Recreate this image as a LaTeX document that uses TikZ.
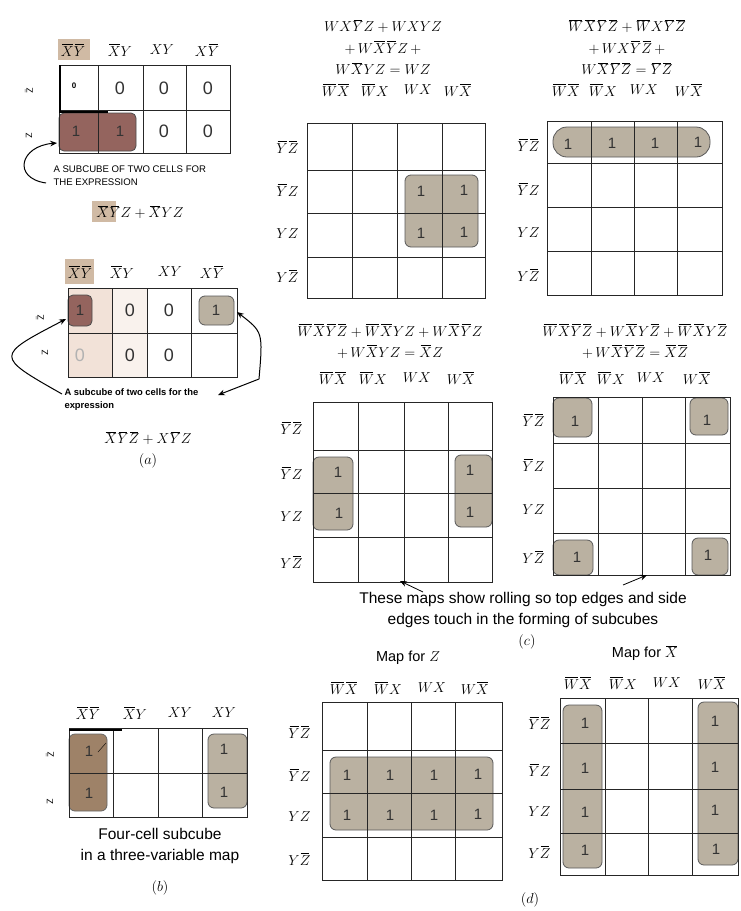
\documentclass[tikz,border=0pt]{standalone}
\usepackage{amsmath}
\usepackage{fontspec}
\newfontfamily\sflab{Liberation Sans}
\usepackage{tikz}
\usetikzlibrary{arrows.meta,positioning}
\definecolor{cubegray}{RGB}{186,177,161}
\definecolor{cubered}{RGB}{148,100,94}
\definecolor{cubeolive}{RGB}{158,130,104}
\definecolor{hdrtan}{RGB}{208,186,164}
\definecolor{pinkcol}{RGB}{242,226,216}
\newcommand{\nbar}[1]{\mkern1.5mu\overline{\mkern-1.5mu#1\mkern-1.5mu}\mkern1.5mu}

\begin{document}
\begin{tikzpicture}[x=1pt,y=-1pt,
    kgrid/.style={draw=black!85,line width=0.9pt},
    cube/.style={fill=cubegray,draw=black!65,line width=0.8pt,rounded corners=6pt},
    redcube/.style={fill=cubered,draw=black!70,line width=0.8pt,rounded corners=5pt},
    olivecube/.style={fill=cubeolive,draw=black!60,line width=0.8pt,rounded corners=6pt},
    one/.style={font=\sflab\fontsize{15}{15}\selectfont,text=black!80},
    zero/.style={font=\sflab\fontsize{18}{18}\selectfont,text=black!80},
    hdr/.style={font=\fontsize{15}{15}\selectfont},
    rowlbl/.style={font=\fontsize{15}{15}\selectfont,anchor=east},
    zlbl/.style={font=\sflab\fontsize{9}{9}\selectfont,rotate=90},
    eqn/.style={font=\fontsize{15.5}{21.5}\selectfont,align=center},
    note/.style={font=\sflab\fontsize{9.6}{13}\selectfont,align=left,anchor=west},
    caption/.style={font=\sflab\fontsize{15.5}{21.5}\selectfont,align=center},
    arr/.style={-{Stealth[length=2.4mm,width=2mm]},line width=1pt}]
\useasboundingbox[fill=white] (0,0) rectangle (740,911);

\fill[hdrtan] (58,39) rectangle (90,60);
\node[hdr] (a1h1) at (73,50) {$\nbar{X}\nbar{Y}$};
\node[hdr] (a1h2) at (120,50) {$\nbar{X}Y$};
\node[hdr] (a1h3) at (162,50) {$XY$};
\node[hdr] (a1h4) at (207,50) {$X\nbar{Y}$};
\path[redcube] (59,113) rectangle (136,151);
\draw[kgrid] (59,65) rectangle (230,153);
\foreach \x in {98,143,186} \draw[kgrid] (\x,65) -- (\x,153);
\draw[kgrid] (59,110) -- (230,110);
\draw[line width=1.8pt] (60,65) -- (60,112) -- (108,112);
\node[font=\sflab\bfseries\fontsize{8}{8}\selectfont] (a1c11) at (74,86) {0};
\node[zero] (a1c12) at (120,88) {0};
\node[zero] (a1c13) at (164,88) {0};
\node[zero] (a1c14) at (208,88) {0};
\node[one] (a1c21) at (76,131) {1};
\node[one] (a1c22) at (120,131) {1};
\node[zero] (a1c23) at (164,131) {0};
\node[zero] (a1c24) at (208,131) {0};
\node[zlbl] (a1z0) at (29,91) {$\bar{\mathsf{Z}}$};
\node[zlbl] (a1z1) at (29,136) {$\mathsf{Z}$};
\node[note] (a1note) at (50,176) {A SUBCUBE OF TWO CELLS FOR\\THE EXPRESSION};
\coordinate (a1tail) at (46,183);
\coordinate (a1tip) at (57,143);
\draw[arr] (a1tail) .. controls (12,178) and (20,146) .. (a1tip);
\fill[hdrtan] (92,201) rectangle (116,222);
\node[eqn] (a1expr) at (140,212) {$\nbar{X}\nbar{Y}Z + \nbar{X}YZ$};

\fill[hdrtan] (65,259) rectangle (94,284);
\node[hdr] (a2h1) at (80,272) {$\nbar{X}\nbar{Y}$};
\node[hdr] (a2h2) at (122,272) {$\nbar{X}Y$};
\node[hdr] (a2h3) at (170,272) {$XY$};
\node[hdr] (a2h4) at (212,272) {$X\nbar{Y}$};
\fill[pinkcol] (68,288) rectangle (112,377);
\fill[pinkcol!45] (112,288) rectangle (147,377);
\path[redcube] (68,295) rectangle (92,326);
\path[cube] (199,296) rectangle (234,325);
\draw[kgrid] (68,288) rectangle (237,377);
\foreach \x in {112,147,191} \draw[kgrid] (\x,288) -- (\x,377);
\draw[kgrid] (68,333) -- (237,333);
\node[one] (a2c11) at (80,310) {1};
\node[zero] (a2c12) at (130,310) {0};
\node[zero] (a2c13) at (169,310) {0};
\node[one] (a2c14) at (216,310) {1};
\node[zero,text=black!30] (a2c21) at (80,355) {0};
\node[zero] (a2c22) at (130,355) {0};
\node[zero] (a2c23) at (169,355) {0};
\node[zlbl] (a2z0) at (40,318) {$\bar{\mathsf{Z}}$};
\node[zlbl] (a2z1) at (45,353) {$\mathsf{Z}$};
\node[note,font=\sflab\bfseries\fontsize{9.4}{13}\selectfont] (a2note) at (61,400) {A subcube of two cells for the\\expression};
\coordinate (a2tail) at (62,394);
\coordinate (a2tip) at (66,319);
\draw[arr] (a2tail) .. controls (-5,356) and (-5,356) .. (a2tip);
\coordinate (a2rb) at (259,379);
\coordinate (a2tip2) at (237,312);
\coordinate (a2tail2) at (218,395);
\draw[arr] (a2rb) .. controls (263,332) .. (a2tip2);
\draw[arr] (a2rb) -- (a2tail2);
\node[eqn] (a2expr) at (148,438) {$\nbar{X}\nbar{Y}\nbar{Z} + X\nbar{Y}Z$};
\node[eqn] (alabel) at (148,461) {$(a)$};

\node[hdr] (bh1) at (88,713) {$\nbar{X}\nbar{Y}$};
\node[hdr] (bh2) at (135,713) {$\nbar{X}Y$};
\node[hdr] (bh3) at (180,713) {$XY$};
\node[hdr] (bh4) at (224,713) {$XY$};
\path[olivecube] (69,734) rectangle (107,811);
\path[cube] (208,734) rectangle (247,808);
\draw[kgrid] (69,728) rectangle (247,817);
\foreach \x in {113,158,202} \draw[kgrid] (\x,728) -- (\x,817);
\draw[kgrid] (69,773) -- (247,773);
\draw[line width=1.8pt] (69,730) -- (122,730);
\draw[thin] (98,752) -- (106,743);
\node[one] (bc11) at (89,751) {1};
\node[one] (bc21) at (89,793) {1};
\node[one] (bc14) at (224,749) {1};
\node[one] (bc24) at (224,792) {1};
\node[zlbl] (bz0) at (50,755) {$\bar{\mathsf{Z}}$};
\node[zlbl] (bz1) at (50,802) {$\mathsf{Z}$};
\node[caption] (bcap) at (160,846) {Four-cell subcube\\in a three-variable map};
\node[eqn] (blabel) at (160,888) {$(b)$};

\node[eqn] (c1eq) at (383,47) {$WX\nbar{Y}Z + WXYZ$\\$+\,W\nbar{X}\nbar{Y}Z\,+$\\$W\nbar{X}YZ = WZ$};
\node[hdr] (c1h1) at (336,90) {$\nbar{W}\nbar{X}$};
\node[hdr] (c1h2) at (375,90) {$\nbar{W}X$};
\node[hdr] (c1h3) at (418,90) {$WX$};
\node[hdr] (c1h4) at (458,90) {$W\nbar{X}$};
\node[rowlbl] (c1r1) at (302,147) {$\nbar{Y}\nbar{Z}$};
\node[rowlbl] (c1r2) at (302,190) {$\nbar{Y}Z$};
\node[rowlbl] (c1r3) at (302,234) {$YZ$};
\node[rowlbl] (c1r4) at (302,276) {$Y\nbar{Z}$};
\path[cube] (405,175) rectangle (478,247);
\draw[kgrid] (307,123) rectangle (485,298);
\foreach \x in {352,397,442} \draw[kgrid] (\x,123) -- (\x,298);
\foreach \y in {170,213,257} \draw[kgrid] (307,\y) -- (485,\y);
\node[one] (c1c23) at (421,191) {1};
\node[one] (c1c24) at (464,190) {1};
\node[one] (c1c33) at (421,233) {1};
\node[one] (c1c34) at (464,232) {1};

\node[eqn] (c2eq) at (627,47) {$\nbar{W}\nbar{X}\nbar{Y}\nbar{Z} + \nbar{W}X\nbar{Y}\nbar{Z}$\\$+\,WX\nbar{Y}\nbar{Z}\,+$\\$W\nbar{X}\nbar{Y}\nbar{Z} = \nbar{Y}\nbar{Z}$};
\node[hdr] (c2h1) at (566,90) {$\nbar{W}\nbar{X}$};
\node[hdr] (c2h2) at (603,90) {$\nbar{W}X$};
\node[hdr] (c2h3) at (644,90) {$WX$};
\node[hdr] (c2h4) at (689,90) {$W\nbar{X}$};
\node[rowlbl] (c2r1) at (543,145) {$\nbar{Y}\nbar{Z}$};
\node[rowlbl] (c2r2) at (543,189) {$\nbar{Y}Z$};
\node[rowlbl] (c2r3) at (543,233) {$YZ$};
\node[rowlbl] (c2r4) at (543,275) {$Y\nbar{Z}$};
\path[cube,rounded corners=14pt] (553,127) rectangle (710,157);
\draw[kgrid] (547,121) rectangle (722,295);
\foreach \x in {591,634,677} \draw[kgrid] (\x,121) -- (\x,295);
\foreach \y in {163,207,251} \draw[kgrid] (547,\y) -- (722,\y);
\node[one] (c2c11) at (568,144) {1};
\node[one] (c2c12) at (612,143) {1};
\node[one] (c2c13) at (655,143) {1};
\node[one] (c2c14) at (698,142) {1};

\node[eqn] (c3eq) at (390,341) {$\nbar{W}\nbar{X}\nbar{Y}\nbar{Z} + \nbar{W}\nbar{X}YZ + W\nbar{X}\nbar{Y}Z$\\$+\,W\nbar{X}YZ = \nbar{X}Z$};
\node[hdr] (c3h1) at (333,378) {$\nbar{W}\nbar{X}$};
\node[hdr] (c3h2) at (373,378) {$\nbar{W}X$};
\node[hdr] (c3h3) at (417,378) {$WX$};
\node[hdr] (c3h4) at (461,378) {$W\nbar{X}$};
\node[rowlbl] (c3r1) at (306,428) {$\nbar{Y}\nbar{Z}$};
\node[rowlbl] (c3r2) at (306,473) {$\nbar{Y}Z$};
\node[rowlbl] (c3r3) at (306,517) {$YZ$};
\node[rowlbl] (c3r4) at (306,562) {$Y\nbar{Z}$};
\path[cube] (313,457) rectangle (353,530);
\path[cube] (455,455) rectangle (492,527);
\draw[kgrid] (313,402) rectangle (492,582);
\foreach \x in {358,404,448} \draw[kgrid] (\x,402) -- (\x,582);
\foreach \y in {450,493,537} \draw[kgrid] (313,\y) -- (492,\y);
\node[one] (c3c21) at (338,472) {1};
\node[one] (c3c31) at (339,513) {1};
\node[one] (c3c24) at (470,470) {1};
\node[one] (c3c34) at (470,512) {1};

\node[eqn] (c4eq) at (635,341) {$\nbar{W}\nbar{X}\nbar{Y}\nbar{Z} + W\nbar{X}Y\nbar{Z} + \nbar{W}\nbar{X}Y\nbar{Z}$\\$+\,W\nbar{X}\nbar{Y}\nbar{Z} = \nbar{X}\nbar{Z}$};
\node[hdr] (c4h1) at (573,378) {$\nbar{W}\nbar{X}$};
\node[hdr] (c4h2) at (611,378) {$\nbar{W}X$};
\node[hdr] (c4h3) at (651,378) {$WX$};
\node[hdr] (c4h4) at (697,378) {$W\nbar{X}$};
\node[rowlbl] (c4r1) at (548,420) {$\nbar{Y}\nbar{Z}$};
\node[rowlbl] (c4r2) at (548,465) {$\nbar{Y}Z$};
\node[rowlbl] (c4r3) at (548,510) {$YZ$};
\node[rowlbl] (c4r4) at (548,557) {$Y\nbar{Z}$};
\path[cube] (553,398) rectangle (592,437);
\path[cube] (690,398) rectangle (728,435);
\path[cube] (553,540) rectangle (593,575);
\path[cube] (692,538) rectangle (728,575);
\draw[kgrid] (553,397) rectangle (730,575);
\foreach \x in {598,642,685} \draw[kgrid] (\x,397) -- (\x,575);
\foreach \y in {443,488,533} \draw[kgrid] (553,\y) -- (730,\y);
\node[one] (c4c11) at (575,421) {1};
\node[one] (c4c14) at (707,420) {1};
\node[one] (c4c41) at (577,557) {1};
\node[one] (c4c44) at (708,555) {1};

\node[caption] (ccap) at (523,610) {These maps show rolling so top edges and side\\edges touch in the forming of subcubes};
\coordinate (ctail1) at (423,592);
\coordinate (ctip1) at (400,581);
\coordinate (ctail2) at (623,585);
\coordinate (ctip2) at (647,575);
\draw[arr,line width=0.8pt] (ctail1) -- (ctip1);
\draw[arr,line width=0.8pt] (ctail2) -- (ctip2);
\node[eqn] (clabel) at (527,642) {$(c)$};

\node[caption,font=\sflab\fontsize{14.5}{15}\selectfont] (d1title) at (408,658) {Map for $Z$};
\node[hdr] (d1h1) at (344,688) {$\nbar{W}\nbar{X}$};
\node[hdr] (d1h2) at (388,688) {$\nbar{W}X$};
\node[hdr] (d1h3) at (432,688) {$WX$};
\node[hdr] (d1h4) at (475,688) {$W\nbar{X}$};
\node[rowlbl] (d1r1) at (314,732) {$\nbar{Y}\nbar{Z}$};
\node[rowlbl] (d1r2) at (314,775) {$\nbar{Y}Z$};
\node[rowlbl] (d1r3) at (314,817) {$YZ$};
\node[rowlbl] (d1r4) at (314,859) {$Y\nbar{Z}$};
\path[cube] (330,757) rectangle (493,830);
\draw[kgrid] (322,702) rectangle (502,880);
\foreach \x in {367,411,455} \draw[kgrid] (\x,702) -- (\x,880);
\foreach \y in {750,793,837} \draw[kgrid] (322,\y) -- (502,\y);
\node[one] (d1c21) at (347,775) {1};
\node[one] (d1c22) at (390,775) {1};
\node[one] (d1c23) at (434,775) {1};
\node[one] (d1c24) at (478,774) {1};
\node[one] (d1c31) at (347,815) {1};
\node[one] (d1c32) at (390,815) {1};
\node[one] (d1c33) at (434,815) {1};
\node[one] (d1c34) at (478,814) {1};

\node[caption,font=\sflab\fontsize{14.5}{15}\selectfont] (d2title) at (645,653) {Map for $\nbar{X}$};
\node[hdr] (d2h1) at (578,683) {$\nbar{W}\nbar{X}$};
\node[hdr] (d2h2) at (623,683) {$\nbar{W}X$};
\node[hdr] (d2h3) at (667,683) {$WX$};
\node[hdr] (d2h4) at (712,683) {$W\nbar{X}$};
\node[rowlbl] (d2r1) at (554,723) {$\nbar{Y}\nbar{Z}$};
\node[rowlbl] (d2r2) at (554,770) {$\nbar{Y}Z$};
\node[rowlbl] (d2r3) at (554,812) {$YZ$};
\node[rowlbl] (d2r4) at (554,852) {$Y\nbar{Z}$};
\path[cube] (563,705) rectangle (602,868);
\path[cube] (698,702) rectangle (738,865);
\draw[kgrid] (560,698) rectangle (738,875);
\foreach \x in {605,648,692} \draw[kgrid] (\x,698) -- (\x,875);
\foreach \y in {743,789,833} \draw[kgrid] (560,\y) -- (738,\y);
\node[one] (d2c11) at (585,723) {1};
\node[one] (d2c21) at (585,768) {1};
\node[one] (d2c31) at (585,812) {1};
\node[one] (d2c41) at (585,850) {1};
\node[one] (d2c14) at (715,721) {1};
\node[one] (d2c24) at (715,767) {1};
\node[one] (d2c34) at (715,810) {1};
\node[one] (d2c44) at (716,849) {1};
\node[eqn] (dlabel) at (530,900) {$(d)$};
\end{tikzpicture}
\end{document}
